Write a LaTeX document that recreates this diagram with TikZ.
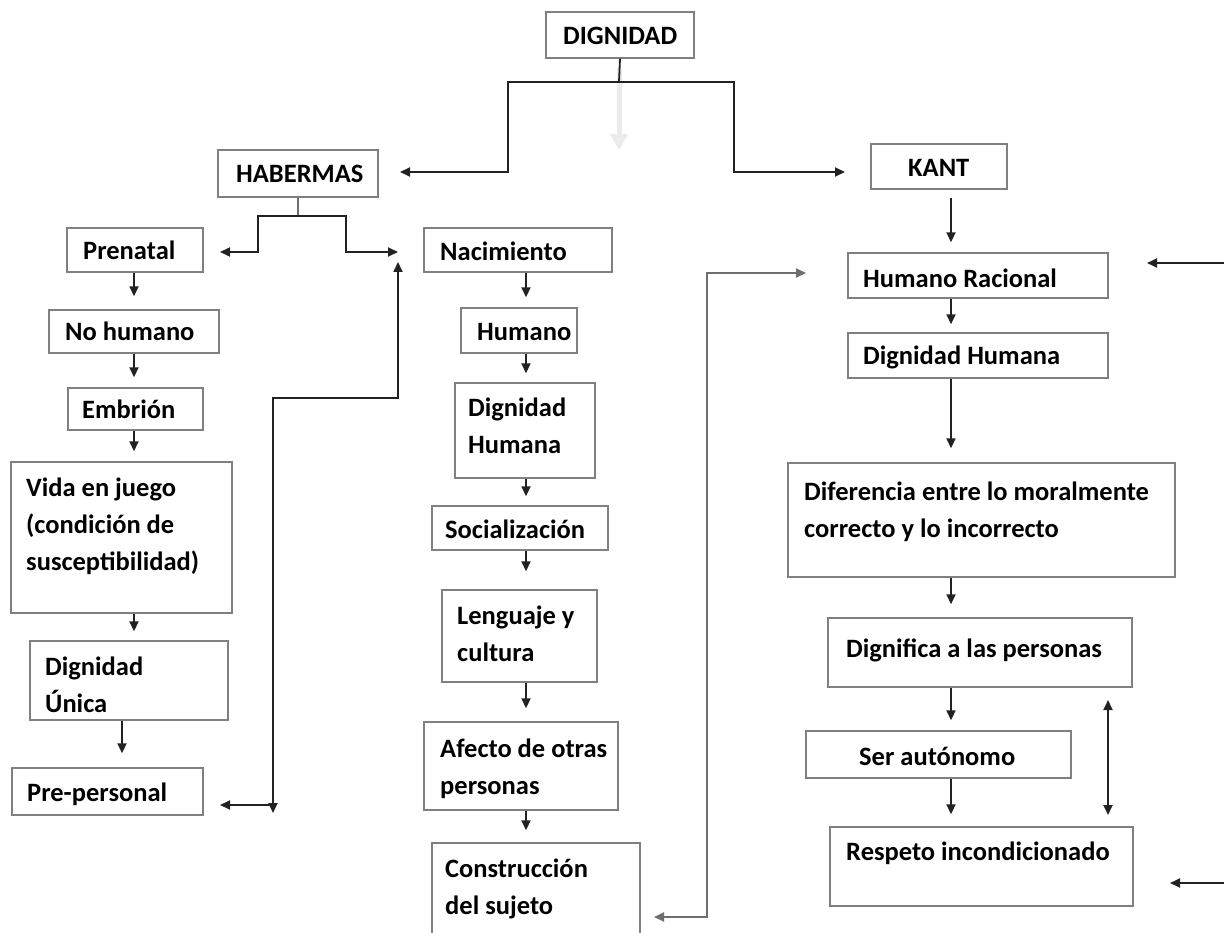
\documentclass[tikz,border=0pt]{standalone}
\usepackage{fontspec}
\setmainfont{Carlito}
\usetikzlibrary{arrows.meta,fit}
\definecolor{boxgray}{HTML}{808080}
\definecolor{ln}{HTML}{222222}
\definecolor{lngray}{HTML}{6E6E6E}
\newcommand\bx[5]{\node[box, fit={(#2,#3) (#4,#5)}] (#1) {};}
\newcommand\tx[4]{\node[txt] (#1) at (#2,#3-22) {\rule{0pt}{22pt}#4};}
\begin{document}
\begin{tikzpicture}[x=1pt,y=-1pt,
  box/.style={draw=boxgray, line width=1.4pt, inner sep=0pt},
  txt/.style={anchor=north west, inner sep=0pt, align=left, font=\fontsize{26.5}{37}\selectfont\bfseries, text=black},
  conn/.style={draw=ln, line width=1.8pt},
  arr/.style={conn, -{Triangle[length=10pt,width=9pt]}},
  darr/.style={conn, {Triangle[length=10pt,width=9pt]}-{Triangle[length=10pt,width=9pt]}},
  garr/.style={arr, draw=lngray}
]
\useasboundingbox (0,0) rectangle (1224,933);
% boxes
\bx{dig}{546}{12}{694}{58}
\bx{hab}{218}{150}{378}{197}
\bx{kant}{871}{144}{1007}{189}
\bx{pre}{67}{228}{203}{272}
\bx{nohum}{49}{310}{219}{353}
\bx{emb}{68}{388}{203}{430}
\bx{vida}{11}{462}{232}{613}
\bx{du}{30}{641}{228}{720}
\bx{pp}{12}{768}{203}{815}
\bx{nac}{424}{228}{612}{272}
\bx{hum}{461}{308}{577}{353}
\bx{dh}{455}{383}{595}{478}
\bx{soc}{432}{506}{608}{550}
\bx{len}{442}{590}{597}{682}
\bx{afe}{424}{722}{618}{810}
\bx{con}{432}{843}{640}{945}
\bx{hr}{848}{253}{1108}{298}
\bx{dhk}{848}{333}{1108}{378}
\bx{dif}{788}{463}{1175}{577}
\bx{dgn}{828}{618}{1132}{687}
\bx{ser}{806}{731}{1071}{778}
\bx{res}{830}{827}{1133}{906}
% texts
\tx{tdig}{563}{44}{DIGNIDAD}
\tx{thab}{236}{182}{HABERMAS}
\tx{tkant}{908}{176}{KANT}
\tx{tpre}{83}{259}{Prenatal}
\tx{tnohum}{65}{340}{No humano}
\tx{temb}{82}{418}{Embrión}
\tx{tvida}{26}{496}{Vida en juego\\(condición de\\susceptibilidad)}
\tx{tdu}{45}{675}{Dignidad\\Única}
\tx{tpp}{27}{801}{Pre-personal}
\tx{tnac}{440}{260}{Nacimiento}
\tx{thum}{477}{340}{Humano}
\tx{tdh}{468}{416}{Dignidad\\Humana}
\tx{tsoc}{445}{538}{Socialización}
\tx{tlen}{457}{624}{Lenguaje y\\cultura}
\tx{tafe}{440}{757}{Afecto de otras\\personas}
\tx{tcon}{445}{877}{Construcción\\del sujeto}
\tx{thr}{863}{287}{Humano Racional}
\tx{tdhk}{863}{364}{Dignidad Humana}
\tx{tdif}{804}{500}{Diferencia entre lo moralmente\\correcto y lo incorrecto}
\tx{tdgn}{846}{657}{Dignifica a las personas}
\tx{tser}{859}{765}{Ser autónomo}
\tx{tres}{846}{860}{Respeto incondicionado}
% helper coordinates
\coordinate (dj) at (619,82);
\coordinate (habin) at (400,172);
\coordinate (kantin) at (845,172);
\coordinate (hj) at (298,216);
\coordinate (prein) at (220,252);
\coordinate (nacin) at (398,252);
\coordinate (loopup) at (398,262);
\coordinate (loopc) at (398,398);
\coordinate (loopl) at (273,398);
\coordinate (loopd) at (273,813);
\coordinate (ppj) at (273,805);
\coordinate (ppin) at (220,805);
\coordinate (conin) at (654,917);
\coordinate (hrin) at (806,273);
\coordinate (hrr) at (1224,263);
\coordinate (hrrin) at (1147,263);
\coordinate (resr) at (1224,883);
\coordinate (resrin) at (1170,883);
\coordinate (lx) at (134,0);
\coordinate (lx2) at (122,0);
\coordinate (mx) at (526,0);
\coordinate (rx) at (951,0);
\coordinate (dbl1) at (1108,700);
\coordinate (dbl2) at (1108,815);
% faded arrow
\draw[draw=black!8, line width=5pt, -{Triangle[length=16pt,width=17pt,fill=black!6]}] (619,68) -- (619,150);
% top tree
\draw[conn] (dig.south) -- (dj);
\draw[arr] (dj) -| (508,172) -- (habin);
\draw[arr] (dj) -| (734,172) -- (kantin);
% habermas tree
\draw[conn, draw=lngray, line width=1.4pt] (hab.south) -- (hj);
\draw[arr] (hj) -| (258,252) -- (prein);
\draw[arr] (hj) -| (346,252) -- (nacin);
% loop to pre-personal
\draw[darr] (loopup) -- (loopc) -- (loopl) -- (loopd);
\draw[arr] (ppj) -- (ppin);
% left column
\draw[arr, shorten >=13pt] (pre.south -| lx) -- (nohum.north -| lx);
\draw[arr, shorten >=10pt] (nohum.south -| lx) -- (emb.north -| lx);
\draw[arr, shorten >=10pt] (emb.south -| lx) -- (vida.north -| lx);
\draw[arr, shorten >=9pt] (vida.south -| lx) -- (du.north -| lx);
\draw[arr, shorten >=14pt] (du.south -| lx2) -- (pp.north -| lx2);
% middle column
\draw[arr, shorten >=10pt] (nac.south -| mx) -- (hum.north -| mx);
\draw[arr, shorten >=9pt] (hum.south -| mx) -- (dh.north -| mx);
\draw[arr, shorten >=9pt] (dh.south -| mx) -- (soc.north -| mx);
\draw[arr, shorten >=18pt] (soc.south -| mx) -- (len.north -| mx);
\draw[arr, shorten >=13pt] (len.south -| mx) -- (afe.north -| mx);
\draw[arr, shorten >=12pt] (afe.south -| mx) -- (con.north -| mx);
% loop from construccion
\draw[darr, draw=lngray] (conin) -- (707,917) -- (707,273) -- (hrin);
% right column
\draw[arr, shorten <=8pt, shorten >=10pt] (kant.south -| rx) -- (hr.north -| rx);
\draw[arr, shorten >=8pt] (hr.south -| rx) -- (dhk.north -| rx);
\draw[arr, shorten >=14pt] (dhk.south -| rx) -- (dif.north -| rx);
\draw[arr, shorten >=13pt] (dif.south -| rx) -- (dgn.north -| rx);
\draw[arr, shorten >=10pt] (dgn.south -| rx) -- (ser.north -| rx);
\draw[arr, shorten >=12pt] (ser.south -| rx) -- (res.north -| rx);
\draw[darr] (dbl1) -- (dbl2);
\draw[arr] (hrr) -- (hrrin);
\draw[arr] (resr) -- (resrin);
\end{tikzpicture}
\end{document}
